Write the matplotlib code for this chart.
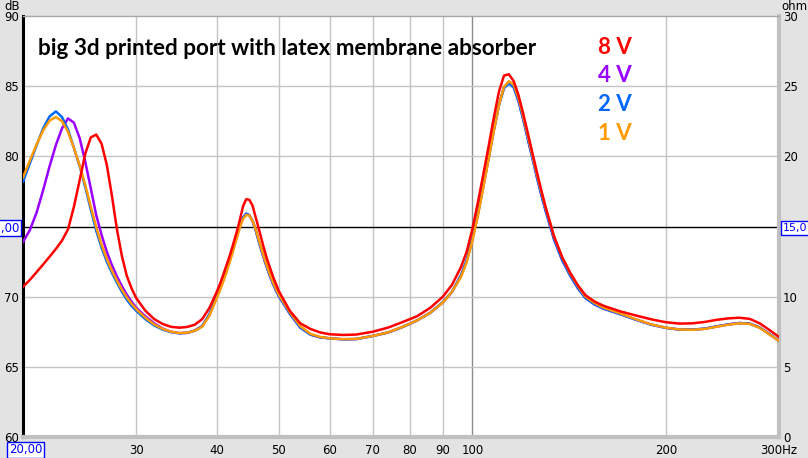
import matplotlib
matplotlib.use("Agg")
import matplotlib.pyplot as plt

# Frequency points (Hz) shared by all curves
freq = [20, 20.5, 21, 21.5, 22, 22.5, 23, 23.5, 24, 24.5,
        25, 25.5, 26, 26.5, 27, 27.5, 28, 28.5, 29, 29.5, 30,
        31, 32, 33, 34, 35, 36, 37, 38, 39,
        40, 40.5, 41, 41.5, 42, 42.5, 43, 43.5, 44, 44.5,
        45, 45.5, 46, 46.5, 47, 47.5, 48, 48.5, 49, 49.5, 50,
        52, 54, 56, 58, 60, 63, 66, 70, 74, 78, 82, 86, 90, 93, 96, 98,
        100, 102, 104, 106, 108, 110, 112, 114, 116, 118, 120, 122, 124, 126, 128, 130,
        134, 138, 142, 146, 150, 155, 160, 170, 180, 190, 200,
        210, 220, 230, 240, 250, 260, 270, 280, 290, 300]

# Impedance (ohm)
z_8v = [10.7, 11.2, 11.75, 12.3, 12.85, 13.4, 14.0, 14.8, 16.4, 18.3,
        20.2, 21.35, 21.55, 20.9, 19.4, 17.2, 14.8, 12.9, 11.5, 10.6, 9.9,
        9.0, 8.4, 8.05, 7.85, 7.79, 7.84, 8.0, 8.4, 9.2,
        10.3, 10.9, 11.6, 12.3, 13.0, 13.8, 14.6, 15.5, 16.45, 16.95,
        16.9, 16.5, 15.7, 14.9, 14.1, 13.3, 12.6, 12.0, 11.4, 10.9, 10.4,
        9.0, 8.1, 7.7, 7.45, 7.32, 7.27, 7.3, 7.5, 7.8, 8.2, 8.6, 9.2, 10.0, 10.85, 12.1, 13.2,
        14.8, 16.7, 18.7, 20.7, 22.75, 24.6, 25.75, 25.85, 25.35, 24.35, 23.05, 21.65, 20.25, 18.9, 17.6, 16.4,
        14.3, 12.8, 11.7, 10.8, 10.1, 9.65, 9.35, 8.95, 8.65, 8.38, 8.18,
        8.08, 8.1, 8.2, 8.35, 8.45, 8.5, 8.42, 8.1, 7.62, 7.13]

z_4v = [13.9, 14.75, 16.0, 17.6, 19.3, 20.8, 22.0, 22.7, 22.4, 21.3,
        19.6, 17.7, 15.8, 14.4, 13.2, 12.25, 11.45, 10.75, 10.15, 9.65, 9.22,
        8.6, 8.1, 7.72, 7.5, 7.4, 7.42, 7.58, 7.9, 8.72,
        9.98, 10.58, 11.23, 11.93, 12.68, 13.48, 14.28, 15.08, 15.62, 15.9,
        15.8, 15.4, 14.8, 14.0, 13.3, 12.6, 12.0, 11.4, 10.9, 10.45, 10.05,
        8.8, 7.8, 7.3, 7.1, 7.03, 6.96, 6.98, 7.2, 7.45, 7.85, 8.3, 8.85, 9.6, 10.35, 11.5, 12.55,
        14.05, 15.85, 17.85, 19.85, 21.85, 23.65, 24.9, 25.3, 24.95, 23.95, 22.65, 21.25, 19.9, 18.55, 17.3, 16.15,
        14.1, 12.6, 11.5, 10.6, 9.9, 9.45, 9.15, 8.75, 8.35, 8.0, 7.78,
        7.66, 7.65, 7.72, 7.88, 8.02, 8.12, 8.08, 7.8, 7.33, 6.85]

z_2v = [18.2, 19.5, 20.8, 22.0, 22.85, 23.2, 22.8, 21.9, 20.6, 19.3,
        17.8, 16.2, 14.7, 13.5, 12.5, 11.7, 11.0, 10.35, 9.8, 9.35, 9.0,
        8.4, 7.95, 7.65, 7.47, 7.39, 7.42, 7.58, 7.9, 8.75,
        10.0, 10.6, 11.25, 11.95, 12.7, 13.5, 14.3, 15.1, 15.65, 15.92,
        15.8, 15.4, 14.8, 14.0, 13.3, 12.6, 12.0, 11.4, 10.9, 10.45, 10.05,
        8.8, 7.8, 7.3, 7.1, 7.03, 6.96, 6.98, 7.2, 7.45, 7.85, 8.3, 8.85, 9.6, 10.35, 11.5, 12.6,
        14.1, 15.9, 17.9, 19.9, 21.85, 23.65, 24.85, 25.2, 24.9, 23.95, 22.65, 21.25, 19.9, 18.55, 17.3, 16.15,
        14.1, 12.6, 11.5, 10.6, 9.9, 9.45, 9.15, 8.75, 8.35, 8.0, 7.78,
        7.66, 7.65, 7.72, 7.88, 8.02, 8.12, 8.08, 7.8, 7.33, 6.85]

z_1v = [18.5, 19.7, 20.85, 21.85, 22.55, 22.8, 22.5, 21.75, 20.6, 19.35,
        17.95, 16.4, 14.95, 13.7, 12.7, 11.85, 11.15, 10.5, 9.95, 9.5, 9.12,
        8.5, 8.02, 7.7, 7.5, 7.41, 7.43, 7.57, 7.86, 8.65,
        9.85, 10.45, 11.1, 11.8, 12.55, 13.35, 14.15, 14.95, 15.55, 15.82,
        15.78, 15.4, 14.85, 14.1, 13.4, 12.7, 12.1, 11.5, 11.0, 10.55, 10.15,
        8.9, 7.9, 7.35, 7.13, 7.03, 6.97, 6.99, 7.2, 7.46, 7.86, 8.3, 8.85, 9.58, 10.35, 11.4, 12.45,
        13.95, 15.75, 17.75, 19.8, 21.8, 23.65, 24.95, 25.35, 25.1, 24.15, 22.85, 21.45, 20.1, 18.75, 17.5, 16.35,
        14.3, 12.8, 11.65, 10.75, 10.0, 9.55, 9.22, 8.8, 8.38, 8.02, 7.79,
        7.66, 7.64, 7.7, 7.86, 8.0, 8.1, 8.06, 7.78, 7.3, 6.85]

series = [("4 V", z_4v, "#9a00ff"),
          ("2 V", z_2v, "#0068ff"),
          ("1 V", z_1v, "#ff9a00"),
          ("8 V", z_8v, "#ff0000")]
legend_order = ["8 V", "4 V", "2 V", "1 V"]

x_ticks = [30, 40, 50, 60, 70, 80, 90, 100, 200, 300]
x_labels = ["30", "40", "50", "60", "70", "80", "90", "100", "200", "300Hz"]
db_ticks = [60, 65, 70, 80, 85, 90]
ohm_ticks = [0, 5, 10, 20, 25, 30]

W, H = 808, 458
fig = plt.figure(figsize=(W / 100, H / 100), dpi=100, facecolor="#e3e3e3")
ax = fig.add_axes([23 / W, 21 / H, 756 / W, 421 / H])
ax.set_facecolor("white")
ax.set_xscale("log")
ax.set_xlim(20, 300)
ax.set_ylim(60, 90)

ax.set_xticks(x_ticks)
ax.set_xticklabels(x_labels)
ax.xaxis.set_minor_locator(matplotlib.ticker.NullLocator())
ax.set_yticks(db_ticks)
ax.tick_params(length=0, labelsize=8.5)
ax.tick_params(axis="x", pad=5)
ax.tick_params(axis="y", pad=3)

for f in x_ticks[:-1]:
    ax.axvline(f, color="#8c8c8c" if f == 100 else "#c4c4c4", lw=1, zorder=1)
for d in [65, 70, 80, 85]:
    ax.axhline(d, color="#c4c4c4", lw=1, zorder=1)
ax.axhline(75, color="black", lw=1, zorder=2)

ax.spines["left"].set_color("black")
ax.spines["left"].set_linewidth(2.2)
ax.spines["top"].set_color("#a8a8a8")
ax.spines["top"].set_linewidth(1)
ax.spines["right"].set_color("#c0c0c0")
ax.spines["right"].set_linewidth(3)
ax.spines["bottom"].set_color("#c0c0c0")
ax.spines["bottom"].set_linewidth(3)

ax2 = ax.twinx()
ax2.set_ylim(0, 30)
ax2.set_yticks(ohm_ticks)
ax2.tick_params(length=0, labelsize=8.5, pad=3)
for s in ax2.spines.values():
    s.set_visible(False)

for name, z, col in series:
    ax2.plot(freq, z, color=col, lw=1.8, solid_joinstyle="round", zorder=3)

fig.text(4 / W, 1 - 6 / H, "dB", fontsize=8.5, va="center", ha="left")
fig.text(781 / W, 1 - 6 / H, "ohm", fontsize=8.5, va="center", ha="left")

fig.text(38 / W, 1 - 55 / H, "big 3d printed port with latex membrane absorber",
         family="Lato", weight="bold", fontsize=16.2, va="baseline", ha="left")

colors = {name: col for name, z, col in series}
for i, name in enumerate(legend_order):
    fig.text(598 / W, 1 - (53.5 + i * 28.7) / H, name, color=colors[name],
             family="Lato", weight="bold", fontsize=16, va="baseline", ha="left")

box = dict(boxstyle="square,pad=0.15", fc="white", ec="#0000ff", lw=1)
fig.text(19 / W, 1 - 228 / H, "75,00", color="#0000ff", fontsize=8.5,
         ha="right", va="center", bbox=box)
fig.text(783 / W, 1 - 228 / H, "15,0", color="#0000ff", fontsize=8,
         ha="left", va="center", bbox=box)
fig.text(9 / W, 1 - 450 / H, "20,00", color="#0000ff", fontsize=8.5,
         ha="left", va="center", bbox=box)

fig.savefig("out.png", dpi=100, facecolor=fig.get_facecolor())
